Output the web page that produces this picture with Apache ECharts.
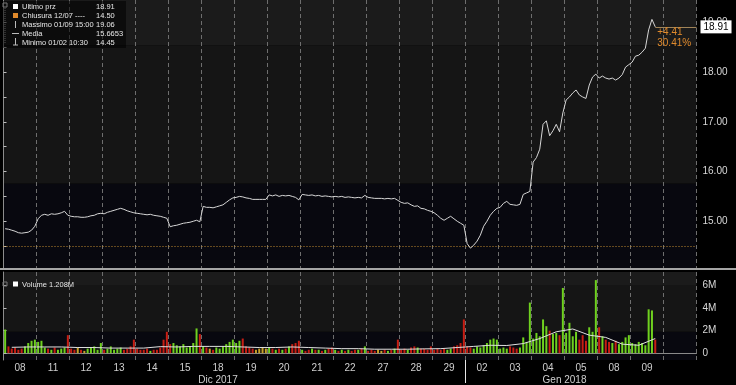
<!DOCTYPE html>
<html><head><meta charset="utf-8">
<script src="https://cdn.jsdelivr.net/npm/echarts@6/dist/echarts.min.js"></script>
<style>html,body{margin:0;padding:0;background:#000;}#c{width:736px;height:385px;}</style>
</head><body><div id="c"></div>
<script>
// ---- data ----
const days = ['08','11','12','13','14','15','18','19','20','21','22','27','28','29','02','03','04','05','08','09',''];
const perDay = 10;
const price = [
 14.85,14.84,14.82,14.80,14.77,14.76,14.77,14.78,14.82,14.90,
 15.05,15.12,15.14,15.12,15.15,15.14,15.15,15.17,15.20,15.12,
 15.10,15.09,15.09,15.08,15.08,15.09,15.11,15.12,15.15,15.16,
 15.15,15.18,15.20,15.22,15.24,15.26,15.24,15.21,15.19,15.17,
 15.16,15.15,15.14,15.13,15.14,15.12,15.11,15.10,15.08,15.06,
 14.89,14.91,14.92,14.94,14.96,14.97,14.98,15.00,15.02,14.99,
 15.30,15.28,15.28,15.27,15.29,15.31,15.33,15.38,15.43,15.47,
 15.48,15.50,15.49,15.47,15.46,15.44,15.44,15.44,15.44,15.44,
 15.53,15.51,15.53,15.50,15.52,15.51,15.52,15.50,15.48,15.43,
 15.54,15.53,15.52,15.53,15.51,15.52,15.50,15.51,15.50,15.49,
 15.50,15.49,15.50,15.48,15.49,15.48,15.47,15.48,15.47,15.52,
 15.48,15.47,15.46,15.46,15.46,15.45,15.46,15.45,15.46,15.42,
 15.38,15.36,15.37,15.33,15.30,15.31,15.26,15.25,15.22,15.20,
 15.17,15.12,15.06,15.02,15.06,15.10,15.05,15.00,14.96,14.92,
 14.55,14.46,14.52,14.60,14.72,14.90,15.00,15.12,15.20,15.26,
 15.28,15.36,15.40,15.34,15.33,15.32,15.34,15.54,15.57,15.60,
 16.19,16.28,16.45,16.95,17.02,16.72,16.82,16.95,16.80,17.18,
 17.44,17.50,17.58,17.64,17.54,17.50,17.47,17.74,17.90,17.96,
 17.88,17.92,17.88,17.86,17.88,17.84,17.88,17.95,18.10,18.15,
 18.20,18.32,18.34,18.40,18.48,18.85,19.06,18.91
];
const volume = [
 2.1,0.6,0.4,0.5,0.3,0.4,0.6,0.9,1.1,1.2,
 1.0,1.1,0.5,0.4,0.3,0.5,0.3,0.4,0.5,1.6,
 0.4,0.3,0.5,0.3,0.2,0.4,0.5,0.6,0.3,0.9,
 0.3,0.4,0.6,0.3,0.4,0.5,0.3,0.4,0.6,1.2,
 0.4,0.3,0.3,0.4,0.2,0.3,0.3,0.5,1.2,1.9,
 0.8,0.9,0.7,0.6,0.8,0.5,0.6,0.9,2.2,1.7,
 0.6,0.5,0.4,0.3,0.5,0.4,0.6,0.8,1.0,1.2,
 0.9,1.1,1.3,0.6,0.5,0.4,0.3,0.4,0.5,0.4,
 0.5,0.4,0.3,0.4,0.3,0.4,0.6,0.8,0.9,1.1,
 0.3,0.2,0.3,0.4,0.3,0.3,0.2,0.3,0.4,0.5,
 0.3,0.2,0.3,0.2,0.3,0.2,0.3,0.3,0.4,0.6,
 0.2,0.3,0.2,0.3,0.2,0.3,0.2,0.3,0.4,1.2,
 0.3,0.4,0.3,0.5,0.6,0.5,0.4,0.4,0.3,0.6,
 0.3,0.4,0.3,0.4,0.3,0.4,0.6,0.7,0.9,3.0,
 0.6,0.5,0.4,0.6,0.5,0.7,0.9,1.2,1.3,1.2,
 0.4,0.5,0.4,0.6,0.5,0.4,0.5,1.4,1.0,4.5,
 1.3,1.8,1.5,3.0,2.4,2.0,1.7,1.8,1.6,5.8,
 1.8,2.7,1.5,1.9,1.2,1.6,1.1,2.3,1.9,6.5,
 2.3,1.5,1.2,1.0,0.9,1.1,0.8,1.0,1.4,1.6,
 0.9,0.8,1.0,0.9,0.7,3.9,3.8,1.208
];
const volumeAvg = [
 0.52,0.55, 0.55,0.55, 0.50,0.50, 0.45,0.45, 0.45,0.58,
 0.55,0.60, 0.60,0.60, 0.55,0.50, 0.50,0.55, 0.50,0.45,
 0.40,0.40, 0.35,0.35, 0.35,0.38, 0.40,0.50, 0.60,0.70,
 0.68,0.85, 1.30,1.90, 2.15,1.60, 1.40,0.80, 0.70,1.30
];
const prevClose = 14.50;
const months = ['Dic 2017','Gen 2018'];
const monthPos = [6.5, 17];
const monthBreak = 14;
const priceLabels = [15,16,17,18,19];
const priceTicks = [14.5,15,15.5,16,16.5,17,17.5,18,18.5,19];
const volLabels = [0,2,4,6];
const legendNames = ['Ultimo prz','Chiusura 12/07 ----','Massimo 01/09 15:00','Media','Minimo 01/02 10:30'];
const legendValues = ['18.91','14.50','19.06','15.6653','14.45'];

// ---- build ----
const P_MIN = 14.06, P_MAX = 19.45, V_MIN = -0.61, V_MAX = 7.22;
const xOf = i => Math.floor(i / perDay) + ((i % perDay) + 0.5) / perDay;
const priceData = price.map((v, i) => [xOf(i), v]);
const GREEN = '#6fd11f', RED = '#c81e14', YEL = '#c9a227';
const volData = volume.map((v, i) => {
  const prev = i === 0 ? prevClose : price[i - 1];
  const c = price[i] > prev ? GREEN : (price[i] < prev ? RED : YEL);
  return { value: [xOf(i), v], itemStyle: { color: c } };
});
const avgData = volumeAvg.map((v, i) => [Math.floor(i / 2) + (i % 2 === 0 ? 0.25 : 0.75), v]);
const lastI = price.length - 1;
const last = price[lastI];
const lastX = xOf(lastI);
const diff = last - prevClose;
const pct = diff / prevClose * 100;
const lastVol = volume[volume.length - 1];

const FONT = 'Liberation Sans';
const ORANGE = '#e08a2c';
const daySplit = { show: true, lineStyle: { color: '#6e6e6e', type: [4, 3], width: 1 } };

const Z = 100;
const legendEls = [];
legendEls.push({ type: 'rect', z: Z, shape: { x: 2, y: 1, width: 124, height: 47 }, style: { fill: 'rgba(0,0,0,0.55)' } });
legendEls.push({ type: 'rect', z: Z, shape: { x: 3, y: 3, width: 4, height: 4 }, style: { fill: 'none', stroke: '#777', lineWidth: 1 } });
legendEls.push({ type: 'line', z: Z, shape: { x1: 5, y1: 8, x2: 5, y2: 44 }, style: { stroke: '#555', lineDash: [1, 1], lineWidth: 1 } });
legendEls.push({ type: 'rect', z: Z, shape: { x: 13, y: 4, width: 5, height: 5 }, style: { fill: '#ffffff' } });
legendEls.push({ type: 'rect', z: Z, shape: { x: 13, y: 13, width: 5, height: 5 }, style: { fill: ORANGE } });
legendEls.push({ type: 'line', z: Z, shape: { x1: 15.5, y1: 21, x2: 15.5, y2: 28 }, style: { stroke: '#bbb', lineWidth: 1 } });
legendEls.push({ type: 'line', z: Z, shape: { x1: 12, y1: 33.5, x2: 19, y2: 33.5 }, style: { stroke: '#bbb', lineWidth: 1 } });
legendEls.push({ type: 'line', z: Z, shape: { x1: 15.5, y1: 38, x2: 15.5, y2: 45 }, style: { stroke: '#bbb', lineWidth: 1 } });
legendEls.push({ type: 'line', z: Z, shape: { x1: 13, y1: 45, x2: 18, y2: 45 }, style: { stroke: '#bbb', lineWidth: 1 } });
legendNames.forEach((n, i) => {
  const y = 6.7 + i * 9;
  legendEls.push({ type: 'text', z: Z + 1, x: 22, y: y, style: { text: n, fill: '#e6e6e6', font: '7.5px "' + FONT + '"', verticalAlign: 'middle', textVerticalAlign: 'middle' } });
  legendEls.push({ type: 'text', z: Z + 1, x: 96, y: y, style: { text: legendValues[i], fill: '#e6e6e6', font: '7.5px "' + FONT + '"', verticalAlign: 'middle', textVerticalAlign: 'middle' } });
});
// volume legend
legendEls.push({ type: 'rect', z: Z, shape: { x: 3, y: 282, width: 4, height: 4 }, style: { fill: 'none', stroke: '#777', lineWidth: 1 } });
legendEls.push({ type: 'rect', z: Z, shape: { x: 13, y: 281.5, width: 5, height: 5 }, style: { fill: '#ffffff' } });
legendEls.push({ type: 'text', z: Z + 1, x: 22, y: 284.5, style: { text: 'Volume ' + lastVol.toFixed(3) + 'M', fill: '#e6e6e6', font: '7.5px "' + FONT + '"', verticalAlign: 'middle', textVerticalAlign: 'middle' } });
// panel separator
legendEls.push({ type: 'rect', z: Z, shape: { x: 0, y: 268, width: 736, height: 2 }, style: { fill: '#a5a5a5' } });

const chart = echarts.init(document.getElementById('c'), null, { renderer: 'canvas' });
chart.setOption({
  backgroundColor: '#000',
  animation: false,
  textStyle: { fontFamily: FONT },
  grid: [
    { left: 3.5, width: 693, top: 0, height: 268 },
    { left: 3.5, width: 693, top: 272, height: 90 }
  ],
  xAxis: [
    { gridIndex: 0, type: 'value', min: 0, max: 21, interval: 1,
      axisLine: { show: false }, axisTick: { show: false }, axisLabel: { show: false }, splitLine: daySplit },
    { gridIndex: 1, type: 'value', min: 0, max: 21, interval: 1,
      axisLine: { show: true, lineStyle: { color: '#8a8a8a' } }, axisTick: { show: false },
      axisLabel: { show: true, customValues: days.map((d, i) => i + 0.5), formatter: v => days[Math.floor(v)],
        color: '#cfcfcf', fontSize: 10, margin: 3 },
      splitLine: daySplit },
    { gridIndex: 1, type: 'value', min: 0, max: 21, position: 'bottom',
      axisLine: { show: false },
      axisTick: { show: true, customValues: [monthBreak], length: 23, lineStyle: { color: '#e6e6e6', width: 1 } },
      axisLabel: { show: true, customValues: monthPos, formatter: v => months[monthPos.indexOf(v)],
        color: '#cfcfcf', fontSize: 10, margin: 15 },
      splitLine: { show: false } }
  ],
  yAxis: [
    { gridIndex: 0, type: 'value', position: 'right', min: P_MIN, max: P_MAX,
      axisLine: { show: true, lineStyle: { color: '#8c8c8c' } },
      axisTick: { show: true, customValues: priceTicks, length: 3, lineStyle: { color: '#bdbdbd' } },
      axisLabel: { show: true, customValues: priceLabels, formatter: v => v.toFixed(2), color: '#d8d8d8', fontSize: 10, margin: 6 },
      splitLine: { show: false } },
    { gridIndex: 1, type: 'value', position: 'right', min: V_MIN, max: V_MAX,
      axisLine: { show: true, lineStyle: { color: '#8c8c8c' } },
      axisTick: { show: true, customValues: volLabels, length: 3, lineStyle: { color: '#bdbdbd' } },
      axisLabel: { show: true, customValues: volLabels, formatter: v => v === 0 ? '0' : v + 'M', color: '#d8d8d8', fontSize: 10, margin: 6 },
      splitLine: { show: false } }
  ],
  series: [
    { type: 'line', name: 'price', xAxisIndex: 0, yAxisIndex: 0, symbol: 'none', z: 5,
      data: priceData, lineStyle: { color: '#d6d6d6', width: 1 },
      markLine: { silent: true, symbol: 'none', animation: false, data: [
        { yAxis: prevClose, lineStyle: { color: '#c08a30', type: [1, 2], width: 1 }, label: { show: false } },
        [{ coord: [lastX, last], lineStyle: { color: '#a08458', type: 'solid', width: 1 },
           label: { show: true, position: 'end', formatter: last.toFixed(2), backgroundColor: '#ffffff', color: '#000',
                    padding: [2, 3, 1, 3], fontSize: 10, distance: 4 } },
         { coord: [21, last] }]
      ] },
      markPoint: { silent: true, symbol: 'circle', symbolSize: 0, data: [
        { coord: [lastX, last], label: { show: true, position: 'right', distance: 2, offset: [0, 11],
          formatter: '+' + diff.toFixed(2) + '\n' + pct.toFixed(2) + '%', color: ORANGE, fontSize: 10, lineHeight: 11, align: 'left' } }
      ] } },
    { type: 'bar', name: 'volume', xAxisIndex: 1, yAxisIndex: 1, barWidth: 2, z: 3,
      data: volData,
      markLine: { silent: true, symbol: 'none', animation: false, data: [
        [{ coord: [xOf(volume.length - 1), lastVol], lineStyle: { opacity: 0 },
           label: { show: true, position: 'end', formatter: lastVol.toFixed(3) + 'M', backgroundColor: '#ffffff', color: '#000',
                    padding: [2, 2, 1, 2], fontSize: 10, distance: 4 } },
         { coord: [21, lastVol] }]
      ] } },
    { type: 'line', name: 'avg', xAxisIndex: 1, yAxisIndex: 1, symbol: 'none', z: 4,
      data: avgData, lineStyle: { color: '#e0e0e0', width: 1 } }
  ]
});

// background bands placed through the axes' own scales
const xL = chart.convertToPixel({ xAxisIndex: 0 }, 0);
const xR = chart.convertToPixel({ xAxisIndex: 0 }, 21);
const priceBands = [[P_MIN, 15.76, '#08080f'], [15.76, 18.54, '#151515'], [18.54, P_MAX, '#1b1b1b']];
const volBands = [[V_MIN, 1.9, '#08080f'], [1.9, 6.0, '#151515'], [6.0, V_MAX, '#1b1b1b']];
const bandEls = [];
priceBands.forEach(b => {
  const yTop = chart.convertToPixel({ yAxisIndex: 0 }, b[1]);
  const yBot = chart.convertToPixel({ yAxisIndex: 0 }, b[0]);
  bandEls.push({ type: 'rect', z: -10, silent: true, shape: { x: xL, y: yTop, width: xR - xL, height: yBot - yTop }, style: { fill: b[2] } });
});
volBands.forEach(b => {
  const yTop = chart.convertToPixel({ yAxisIndex: 1 }, b[1]);
  const yBot = chart.convertToPixel({ yAxisIndex: 1 }, b[0]);
  bandEls.push({ type: 'rect', z: -10, silent: true, shape: { x: xL, y: yTop, width: xR - xL, height: yBot - yTop }, style: { fill: b[2] } });
});
chart.setOption({ graphic: { elements: bandEls.concat(legendEls) } });
</script>
</body></html>
